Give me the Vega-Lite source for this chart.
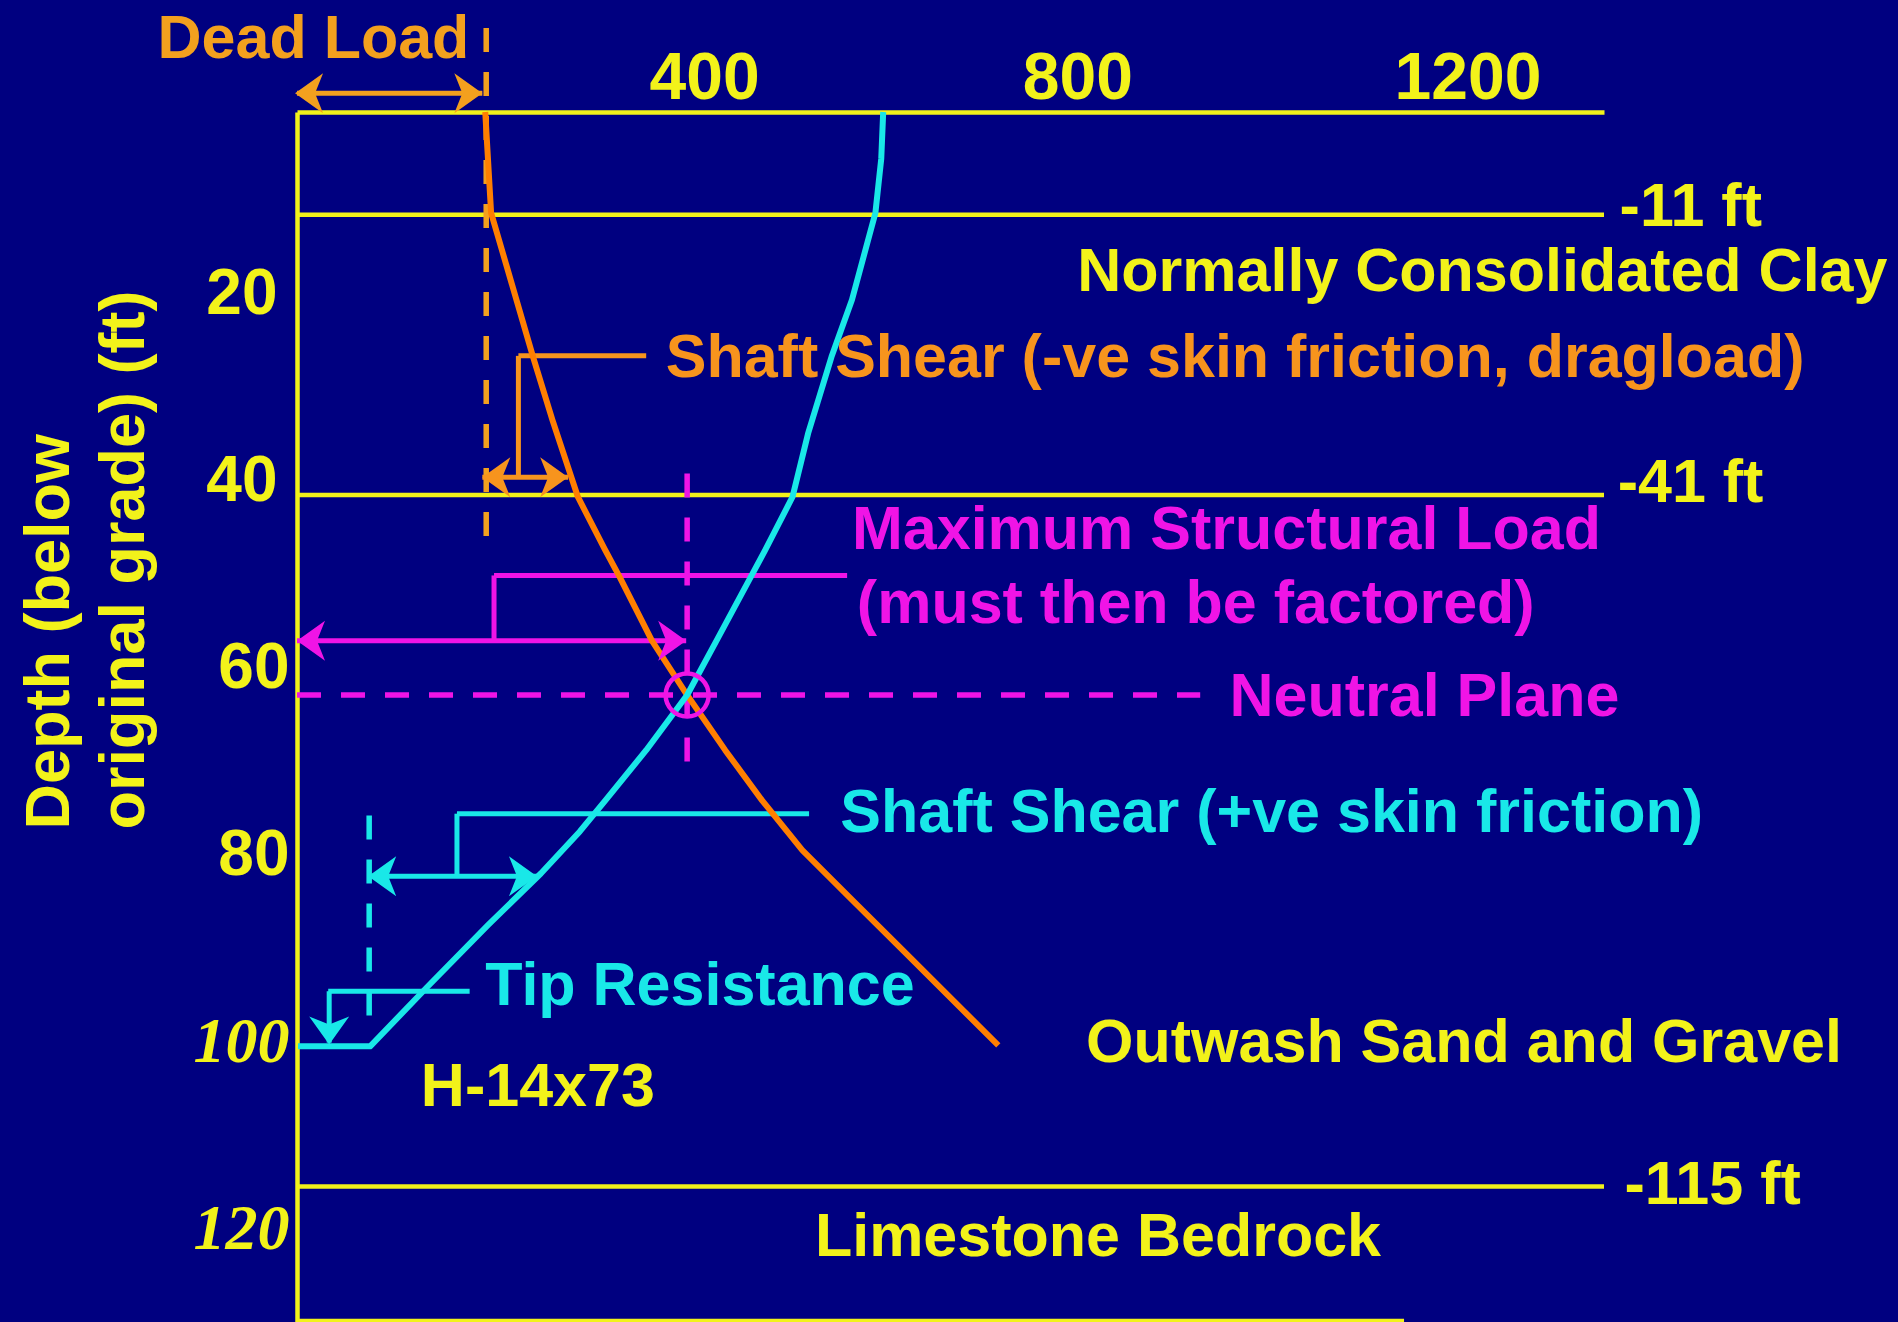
{
  "$schema": "https://vega.github.io/schema/vega-lite/v6.json",
  "width": 1307,
  "height": 1210,
  "autosize": {"type": "none"},
  "padding": {"left": 297, "top": 112, "right": 294, "bottom": 0},
  "background": "#000080",
  "config": {"view": {"stroke": null}},
  "datasets": {
    "curves": [
      {"series": "pile load", "i": 1, "depth": 0, "load": 193},
      {"series": "pile load", "i": 2, "depth": 10.8, "load": 199},
      {"series": "pile load", "i": 3, "depth": 20.1, "load": 225},
      {"series": "pile load", "i": 4, "depth": 26.2, "load": 242},
      {"series": "pile load", "i": 5, "depth": 33.0, "load": 262},
      {"series": "pile load", "i": 6, "depth": 41.2, "load": 288},
      {"series": "pile load", "i": 7, "depth": 46.9, "load": 316},
      {"series": "pile load", "i": 8, "depth": 49.8, "load": 331},
      {"series": "pile load", "i": 9, "depth": 56.6, "load": 364},
      {"series": "pile load", "i": 10, "depth": 62.4, "load": 400},
      {"series": "pile load", "i": 11, "depth": 68.3, "load": 439},
      {"series": "pile load", "i": 12, "depth": 73.7, "load": 477},
      {"series": "pile load", "i": 13, "depth": 79.0, "load": 518},
      {"series": "pile load", "i": 14, "depth": 84.0, "load": 566},
      {"series": "pile load", "i": 15, "depth": 89.7, "load": 621},
      {"series": "pile load", "i": 16, "depth": 99.9, "load": 719},
      {"series": "resistance", "i": 1, "depth": 0, "load": 601},
      {"series": "resistance", "i": 2, "depth": 5.0, "load": 599},
      {"series": "resistance", "i": 3, "depth": 10.8, "load": 593},
      {"series": "resistance", "i": 4, "depth": 20.1, "load": 569},
      {"series": "resistance", "i": 5, "depth": 26.2, "load": 548},
      {"series": "resistance", "i": 6, "depth": 34.4, "load": 524},
      {"series": "resistance", "i": 7, "depth": 41.2, "load": 508},
      {"series": "resistance", "i": 8, "depth": 46.9, "load": 480},
      {"series": "resistance", "i": 9, "depth": 49.8, "load": 465},
      {"series": "resistance", "i": 10, "depth": 56.6, "load": 430},
      {"series": "resistance", "i": 11, "depth": 62.4, "load": 400},
      {"series": "resistance", "i": 12, "depth": 68.3, "load": 358},
      {"series": "resistance", "i": 13, "depth": 73.7, "load": 316},
      {"series": "resistance", "i": 14, "depth": 77.0, "load": 290},
      {"series": "resistance", "i": 15, "depth": 81.5, "load": 250},
      {"series": "resistance", "i": 16, "depth": 87.0, "load": 196},
      {"series": "resistance", "i": 17, "depth": 93.7, "load": 133},
      {"series": "resistance", "i": 18, "depth": 100.0, "load": 75},
      {"series": "resistance", "i": 19, "depth": 100.0, "load": 1}
    ],
    "guides": [
      {"series": "dead load", "load": 194, "load2": 194, "depth": -9.0, "depth2": 46.4},
      {"series": "structural", "load": 400, "load2": 400, "depth": 38.7, "depth2": 69.9},
      {"series": "structural", "load": 0, "load2": 926, "depth": 62.4, "depth2": 62.4},
      {"series": "resistance", "load": 74, "load2": 74, "depth": 75.3, "depth2": 97.3}
    ],
    "strata": [
      {"series": "strata", "load": 0, "load2": 1340, "depth": 11, "depth2": 11},
      {"series": "strata", "load": 0, "load2": 1340, "depth": 41, "depth2": 41},
      {"series": "strata", "load": 0, "load2": 1340, "depth": 115, "depth2": 115},
      {"series": "strata", "load": 0, "load2": 1135, "depth": 129.4, "depth2": 129.4}
    ],
    "leaders": [
      {"series": "dead load", "load": 0, "load2": 190, "depth": -2.0, "depth2": -2.0},
      {"series": "dragload", "load": 227, "load2": 358, "depth": 26.1, "depth2": 26.1},
      {"series": "dragload", "load": 227, "load2": 227, "depth": 26.1, "depth2": 39.1},
      {"series": "dragload", "load": 190, "load2": 278, "depth": 39.1, "depth2": 39.1},
      {"series": "structural", "load": 202, "load2": 564, "depth": 49.6, "depth2": 49.6},
      {"series": "structural", "load": 202, "load2": 202, "depth": 49.6, "depth2": 56.6},
      {"series": "structural", "load": 0, "load2": 399, "depth": 56.6, "depth2": 56.6},
      {"series": "resistance", "load": 164, "load2": 525, "depth": 75.1, "depth2": 75.1},
      {"series": "resistance", "load": 164, "load2": 164, "depth": 75.1, "depth2": 81.8},
      {"series": "resistance", "load": 73, "load2": 246, "depth": 81.8, "depth2": 81.8},
      {"series": "resistance", "load": 32, "load2": 177, "depth": 94.1, "depth2": 94.1},
      {"series": "resistance", "load": 33, "load2": 33, "depth": 94.1, "depth2": 99.6}
    ],
    "heads": [
      {"series": "dead load", "pointing": "left", "load": -2, "depth": -2.0},
      {"series": "dead load", "pointing": "right", "load": 190, "depth": -2.0},
      {"series": "dragload", "pointing": "left", "load": 190, "depth": 39.1},
      {"series": "dragload", "pointing": "right", "load": 278, "depth": 39.1},
      {"series": "structural", "pointing": "left", "load": 0, "depth": 56.6},
      {"series": "structural", "pointing": "right", "load": 399, "depth": 56.6},
      {"series": "resistance", "pointing": "left", "load": 73, "depth": 81.8},
      {"series": "resistance", "pointing": "right", "load": 246, "depth": 81.8},
      {"series": "resistance", "pointing": "down", "load": 33, "depth": 99.8}
    ],
    "labels": [
      {"text": "Dead Load", "series": "dead load", "load": -143, "depth": -8.0},
      {"text": "Shaft Shear (-ve skin friction, dragload)", "series": "dragload", "load": 378, "depth": 26.1},
      {"text": "-11 ft", "series": "strata", "load": 1356, "depth": 9.9},
      {"text": "Normally Consolidated Clay", "series": "strata", "load": 800, "depth": 16.9},
      {"text": "-41 ft", "series": "strata", "load": 1354, "depth": 39.5},
      {"text": "Maximum Structural Load", "series": "structural", "load": 569, "depth": 44.5},
      {"text": "(must then be factored)", "series": "structural", "load": 574, "depth": 52.4},
      {"text": "Neutral Plane", "series": "structural", "load": 956, "depth": 62.4},
      {"text": "Shaft Shear (+ve skin friction)", "series": "resistance", "load": 557, "depth": 74.8},
      {"text": "Tip Resistance", "series": "resistance", "load": 193, "depth": 93.3},
      {"text": "Outwash Sand and Gravel", "series": "strata", "load": 809, "depth": 99.4},
      {"text": "H-14x73", "series": "strata", "load": 127, "depth": 104.1},
      {"text": "-115 ft", "series": "strata", "load": 1361, "depth": 114.6},
      {"text": "Limestone Bedrock", "series": "strata", "load": 531, "depth": 120.2}
    ],
    "neutral": [
      {"series": "structural", "load": 400, "depth": 62.4}
    ]
  },
  "encoding": {
    "x": {
      "field": "load",
      "type": "quantitative",
      "scale": {"domain": [0, 1340], "nice": false, "zero": false},
      "axis": {
        "orient": "top",
        "values": [400, 800, 1200],
        "format": "d",
        "title": null,
        "grid": false,
        "ticks": false,
        "tickSize": 0,
        "domainColor": "#f2f21a",
        "domainWidth": 4.5,
        "labelColor": "#f2f21a",
        "labelFont": "Liberation Sans",
        "labelFontWeight": "bold",
        "labelFontSize": 66,
        "labelPadding": 14,
        "labelBaseline": "alphabetic",
        "labelOffset": {"condition": {"test": "datum.value === 400", "value": 17}, "value": 0},
        "labelFlush": false,
        "labelOverlap": false
      }
    },
    "y": {
      "field": "depth",
      "type": "quantitative",
      "scale": {"domain": [0, 129.5], "nice": false, "zero": false, "reverse": true},
      "axis": {
        "orient": "left",
        "values": [20, 40, 60, 80, 100, 120],
        "title": ["Depth (below", "original grade) (ft)"],
        "titleX": -229,
        "titleY": 717,
        "titleAngle": -90,
        "titleAlign": "left",
        "titleBaseline": "alphabetic",
        "titleFont": "Liberation Sans",
        "titleFontWeight": "bold",
        "titleFontSize": 63,
        "titleLineHeight": 75,
        "titleColor": "#f2f21a",
        "grid": false,
        "ticks": false,
        "tickSize": 0,
        "domainColor": "#f2f21a",
        "domainWidth": 4.5,
        "labelColor": "#f2f21a",
        "labelFont": {"condition": {"test": "datum.value >= 100", "value": "Liberation Serif"}, "value": "Liberation Sans"},
        "labelFontStyle": {"condition": {"test": "datum.value >= 100", "value": "italic"}, "value": "normal"},
        "labelFontWeight": "bold",
        "labelFontSize": 64,
        "labelPadding": {"condition": {"test": "datum.value <= 40", "value": 20}, "value": 8},
        "labelOffset": -4,
        "labelFlush": false,
        "labelOverlap": false
      }
    },
    "color": {
      "field": "series",
      "type": "nominal",
      "scale": {
        "domain": ["dead load", "dragload", "pile load", "structural", "resistance", "strata"],
        "range": ["#f3a01e", "#f7941d", "#ff7f00", "#f014e6", "#19e8e8", "#f2f21a"]
      },
      "legend": null
    }
  },
  "layer": [
    {
      "data": {"name": "strata"},
      "mark": {"type": "rule", "strokeWidth": 4.5},
      "encoding": {"x2": {"field": "load2"}, "y2": {"field": "depth2"}}
    },
    {
      "data": {"name": "guides"},
      "mark": {"type": "rule", "strokeWidth": 5.5, "strokeDash": [24, 20]},
      "encoding": {"x2": {"field": "load2"}, "y2": {"field": "depth2"}}
    },
    {
      "data": {"name": "leaders"},
      "mark": {"type": "rule", "strokeWidth": 5},
      "encoding": {"x2": {"field": "load2"}, "y2": {"field": "depth2"}}
    },
    {
      "data": {"name": "curves"},
      "mark": {"type": "line", "strokeWidth": 6, "interpolate": "linear", "strokeJoin": "round"},
      "encoding": {"order": {"field": "i", "type": "quantitative"}}
    },
    {
      "data": {"name": "neutral"},
      "mark": {"type": "point", "shape": "circle", "filled": false, "size": 1849, "strokeWidth": 4.5, "opacity": 1}
    },
    {
      "data": {"name": "heads"},
      "transform": [{"filter": "datum.pointing === 'left'"}],
      "mark": {"type": "point", "shape": "M 0 0 L 1.4 -1 L 1 0 L 1.4 1 Z", "filled": true, "size": 1600, "angle": 0, "opacity": 1}
    },
    {
      "data": {"name": "heads"},
      "transform": [{"filter": "datum.pointing === 'right'"}],
      "mark": {"type": "point", "shape": "M 0 0 L 1.4 -1 L 1 0 L 1.4 1 Z", "filled": true, "size": 1600, "angle": 180, "opacity": 1}
    },
    {
      "data": {"name": "heads"},
      "transform": [{"filter": "datum.pointing === 'down'"}],
      "mark": {"type": "point", "shape": "M 0 0 L 1.4 -1 L 1 0 L 1.4 1 Z", "filled": true, "size": 1600, "angle": 270, "opacity": 1}
    },
    {
      "data": {"name": "labels"},
      "mark": {"type": "text", "font": "Liberation Sans", "fontWeight": "bold", "fontSize": 61, "align": "left", "baseline": "middle", "dy": 3},
      "encoding": {"text": {"field": "text"}}
    }
  ]
}
